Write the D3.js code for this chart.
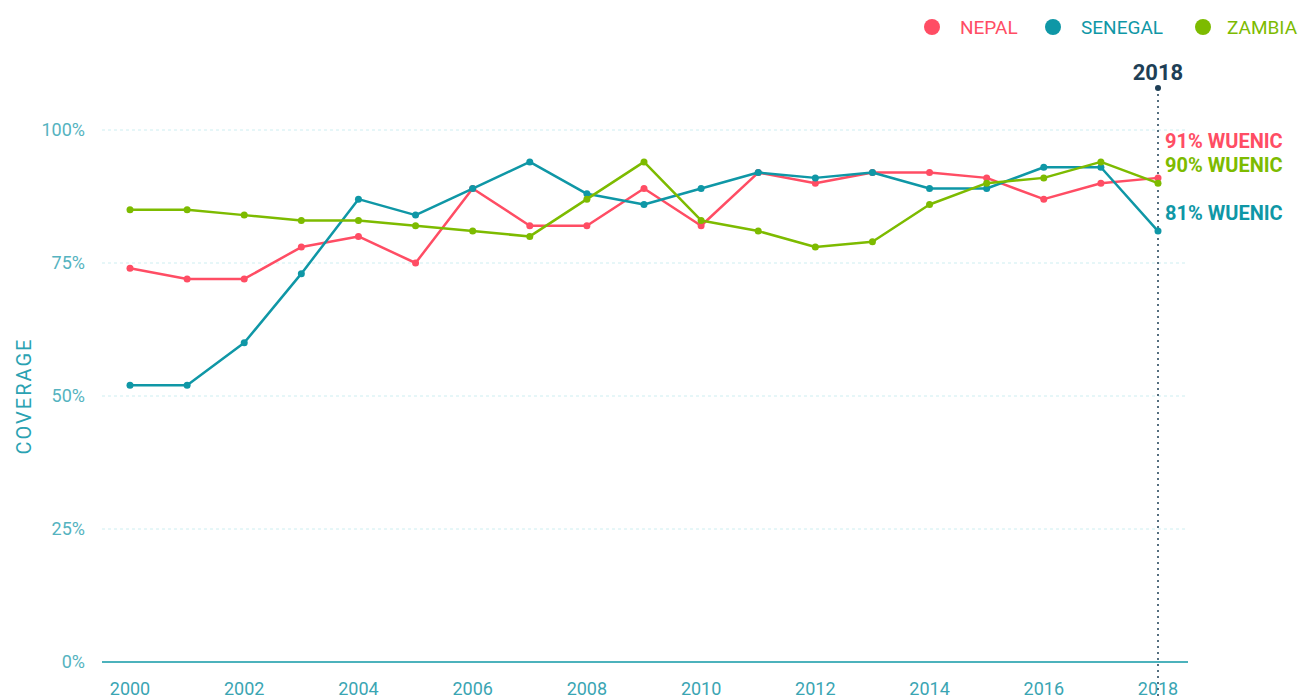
<!DOCTYPE html>
<html>
<head>
<meta charset="utf-8">
<script src="https://cdn.jsdelivr.net/npm/d3@7"></script>
<style>
  body { margin: 0; background: #fff; font-family: Roboto, "Noto Sans", sans-serif; }
</style>
</head>
<body>
<svg id="chart" width="1315" height="700"></svg>
<script>
var years = d3.range(2000, 2019);
var nepal   = [74, 72, 72, 78, 80, 75, 89, 82, 82, 89, 82, 92, 90, 92, 92, 91, 87, 90, 91];
var senegal = [52, 52, 60, 73, 87, 84, 89, 94, 88, 86, 89, 92, 91, 92, 89, 89, 93, 93, 81];
var zambia  = [85, 85, 84, 83, 83, 82, 81, 80, 87, 94, 83, 81, 78, 79, 86, 90, 91, 94, 90];
var yTicks = [0, 25, 50, 75, 100];
var xTicks = [2000, 2002, 2004, 2006, 2008, 2010, 2012, 2014, 2016, 2018];

var series = [
  {name: "NEPAL", values: nepal, color: "#ff4d64"},
  {name: "SENEGAL", values: senegal, color: "#0f97a6"},
  {name: "ZAMBIA", values: zambia, color: "#7dbb00"}
];

var svg = d3.select("#chart");

var x = d3.scaleLinear().domain([2000, 2018]).range([130, 1158]);
var y = d3.scaleLinear().domain([0, 100]).range([662, 130]);

/* grid lines */
svg.append("g").selectAll("line")
  .data(yTicks.filter(function (d) { return d > 0; }))
  .enter().append("line")
  .attr("x1", 102).attr("x2", 1188)
  .attr("y1", function (d) { return y(d); })
  .attr("y2", function (d) { return y(d); })
  .style("stroke", "#cdeef1")
  .style("stroke-width", 1)
  .style("stroke-dasharray", "3,3");

/* y axis labels */
svg.append("g").selectAll("text")
  .data(yTicks)
  .enter().append("text")
  .attr("x", 85)
  .attr("y", function (d) { return y(d); })
  .attr("dy", "0.35em")
  .attr("text-anchor", "end")
  .style("font-size", "18px")
  .style("fill", "#55b3c0")
  .text(function (d) { return d + "%"; });

svg.append("text")
  .attr("transform", "translate(31,396) rotate(-90)")
  .attr("text-anchor", "middle")
  .style("font-size", "20px")
  .style("letter-spacing", "2px")
  .style("fill", "#2aa2b2")
  .text("COVERAGE");

/* x axis */
svg.append("line")
  .attr("x1", 102).attr("x2", 1188)
  .attr("y1", y(0)).attr("y2", y(0))
  .style("stroke", "#4cb2bc")
  .style("stroke-width", 2);

svg.append("g").selectAll("text")
  .data(xTicks)
  .enter().append("text")
  .attr("x", function (d) { return x(d); })
  .attr("y", 695)
  .attr("text-anchor", "middle")
  .style("font-size", "18px")
  .style("fill", "#3aa5b3")
  .text(function (d) { return d; });

/* 2018 marker line */
var lastYear = years[years.length - 1];
svg.append("line")
  .attr("x1", x(lastYear)).attr("x2", x(lastYear))
  .attr("y1", 88).attr("y2", 700)
  .style("stroke", "#1e3f56")
  .style("stroke-width", 1.5)
  .style("stroke-dasharray", "2,4");
svg.append("circle")
  .attr("cx", x(lastYear)).attr("cy", 88).attr("r", 3)
  .style("fill", "#1e3f56");
svg.append("text")
  .attr("x", x(lastYear)).attr("y", 80)
  .attr("text-anchor", "middle")
  .style("font-size", "22px")
  .style("font-weight", "bold")
  .style("fill", "#1e3f56")
  .text(lastYear);

/* lines */
var line = d3.line()
  .x(function (d, i) { return x(years[i]); })
  .y(function (d) { return y(d); });

var g = svg.append("g");
series.forEach(function (s) {
  g.append("path")
    .datum(s.values)
    .attr("d", line)
    .style("fill", "none")
    .style("stroke", s.color)
    .style("stroke-width", 2.5)
    .style("stroke-linejoin", "round");
  g.selectAll(null)
    .data(s.values)
    .enter().append("circle")
    .attr("cx", function (d, i) { return x(years[i]); })
    .attr("cy", function (d) { return y(d); })
    .attr("r", 3.5)
    .style("fill", s.color);
});

/* end labels, pushed apart so they do not overlap */
var labels = series.map(function (s) {
  var v = s.values[s.values.length - 1];
  return {s: s, v: v, ly: y(v) - 18};
}).sort(function (a, b) { return a.v - b.v; });
for (var i = 1; i < labels.length; i++) {
  if (labels[i - 1].ly - labels[i].ly < 24) labels[i].ly = labels[i - 1].ly - 24;
}
svg.append("g").selectAll("text")
  .data(labels)
  .enter().append("text")
  .attr("x", x(lastYear) + 7)
  .attr("y", function (d) { return d.ly; })
  .attr("dy", "0.35em")
  .style("font-size", "20px")
  .style("font-weight", "bold")
  .style("fill", function (d) { return d.s.color; })
  .text(function (d) { return d.v + "% WUENIC"; });

/* legend */
var legendX = [932, 1053, 1203];
var legend = svg.append("g").selectAll("g")
  .data(series)
  .enter().append("g")
  .attr("transform", function (d, i) { return "translate(" + legendX[i] + ",27)"; });
legend.append("circle")
  .attr("r", 8)
  .style("fill", function (d) { return d.color; });
legend.append("text")
  .attr("x", function (d, i) { return i === 2 ? 24 : 28; })
  .attr("dy", "0.35em")
  .style("font-size", "19px")
  .style("fill", function (d) { return d.color; })
  .text(function (d) { return d.name; });
</script>
</body>
</html>
